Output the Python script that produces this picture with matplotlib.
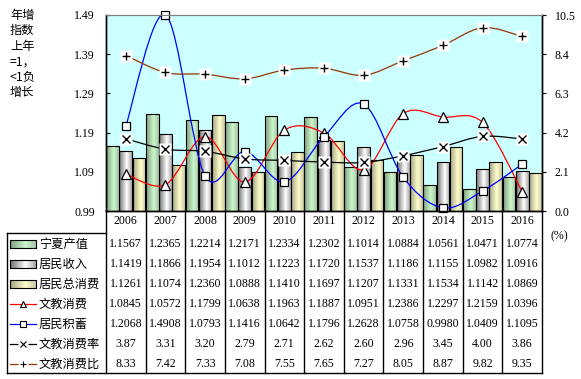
import numpy as np
import matplotlib
matplotlib.use("Agg")
import matplotlib.pyplot as plt
import matplotlib.transforms as mtransforms
from matplotlib.path import Path
from matplotlib.patches import PathPatch
from matplotlib.lines import Line2D
from matplotlib.colors import LinearSegmentedColormap

years = ["2006", "2007", "2008", "2009", "2010", "2011", "2012", "2013", "2014", "2015", "2016"]
output_idx = [1.1567, 1.2365, 1.2214, 1.2171, 1.2334, 1.2302, 1.1014, 1.0884, 1.0561, 1.0471, 1.0774]
income_idx = [1.1419, 1.1866, 1.1954, 1.1012, 1.1223, 1.1720, 1.1537, 1.1186, 1.1155, 1.0982, 1.0916]
consume_idx = [1.1261, 1.1074, 1.2360, 1.0888, 1.1410, 1.1697, 1.1207, 1.1331, 1.1534, 1.1142, 1.0869]
edu_idx = [1.0845, 1.0572, 1.1799, 1.0638, 1.1963, 1.1887, 1.0951, 1.2386, 1.2297, 1.2159, 1.0396]
saving_idx = [1.2068, 1.4908, 1.0793, 1.1416, 1.0642, 1.1796, 1.2628, 1.0758, 0.9980, 1.0409, 1.1095]
edu_rate = [3.87, 3.31, 3.20, 2.79, 2.71, 2.62, 2.60, 2.96, 3.45, 4.00, 3.86]
edu_ratio = [8.33, 7.42, 7.33, 7.08, 7.55, 7.65, 7.27, 8.05, 8.87, 9.82, 9.35]

names = ["宁夏产值", "居民收入", "居民总消费", "文教消费", "居民积蓄", "文教消费率", "文教消费比"]
left_ticks = [0.99, 1.09, 1.19, 1.29, 1.39, 1.49]
right_ticks = [0.0, 2.1, 4.2, 6.3, 8.4, 10.5]

CJK = ["Noto Sans CJK SC", "DejaVu Sans"]
SERIF = "Liberation Serif"
W, H = 581, 379


def fx(px):
    return px / W


def fy(py):
    return 1 - py / H


def smooth_path(xs, ys):
    # Catmull-Rom style bezier like excel smoothed lines
    pts = np.column_stack([xs, ys]).astype(float)
    n = len(pts)
    verts = [pts[0]]
    codes = [Path.MOVETO]
    for i in range(n - 1):
        p0 = pts[max(i - 1, 0)]
        p1 = pts[i]
        p2 = pts[i + 1]
        p3 = pts[min(i + 2, n - 1)]
        verts += [p1 + (p2 - p0) / 6, p2 - (p3 - p1) / 6, p2]
        codes += [Path.CURVE4] * 3
    return Path(verts, codes)


bar_cmaps = [
    LinearSegmentedColormap.from_list("g", [(0, "#7f9f7f"), (0.6, "#ccf7cc"), (1, "#a4c4a4")]),
    LinearSegmentedColormap.from_list("s", [(0, "#6e6e6e"), (0.6, "#ffffff"), (1, "#aaaaaa")]),
    LinearSegmentedColormap.from_list("y", [(0, "#a3a384"), (0.6, "#ffffcc"), (1, "#c8c8a4")]),
]
grad = np.linspace(0, 1, 64).reshape(1, -1)

fig = plt.figure(figsize=(W / 100, H / 100), dpi=100)
ax = fig.add_axes([fx(106), fy(211), fx(542) - fx(106), fy(15) - fy(211)])
ax.set_facecolor("#ccffff")
ax2 = ax.twinx()

x = np.arange(len(years))
ymin, ymax = 0.99, 1.49

# bars with gradient fill
offsets = [-1 / 3, 0, 1 / 3]
bw = 0.32
for series, off, cmap in zip([output_idx, income_idx, consume_idx], offsets, bar_cmaps):
    heights = np.array(series) - ymin
    bars = ax.bar(x + off, heights, bw, bottom=ymin, facecolor="none",
                  edgecolor="black", linewidth=0.8, zorder=3)
    for b in bars:
        x0, y0 = b.get_x(), b.get_y()
        im = ax.imshow(grad, cmap=cmap, aspect="auto", zorder=2,
                       extent=[x0, x0 + b.get_width(), y0, y0 + b.get_height()])
        im.set_clip_path(b)

# smoothed lines on left axis
for series, color, mk, ms in [(edu_idx, "red", "^", 7), (saving_idx, "blue", "s", 6)]:
    ax.add_patch(PathPatch(smooth_path(x, series), fill=False, edgecolor=color, lw=0.9, zorder=4))
    ax.plot(x, series, ls="none", marker=mk, ms=ms, mfc="white", mec="black", mew=0.9,
            zorder=5, clip_on=False)

# smoothed lines on right axis
for series, color, mk in [(edu_rate, "black", "x"), (edu_ratio, "#993300", "+")]:
    ax2.add_patch(PathPatch(smooth_path(x, series), fill=False, edgecolor=color, lw=0.9, zorder=4))
    ax2.plot(x, series, ls="none", marker="s", ms=9, mfc="white", mec="none", zorder=5)
    ax2.plot(x, series, ls="none", marker=mk, ms=6, mec="black", mew=1.0, zorder=6)

ax.set_xlim(-0.5, len(years) - 0.5)
ax.set_ylim(ymin, ymax)
ax2.set_ylim(0, 10.5)

ax.set_yticks(left_ticks)
ax.set_yticklabels([f"{v:.2f}" for v in left_ticks], fontfamily=SERIF, fontsize=8.6)
ax.tick_params(axis="y", direction="in", length=3, pad=8)
ax2.set_yticks(right_ticks)
ax2.set_yticklabels([f"{v:.1f}" for v in right_ticks], fontfamily=SERIF, fontsize=8.6)
ax2.tick_params(axis="y", direction="out", length=3, pad=6)

ax.set_xticks(x)
ax.set_xticklabels(years, fontfamily=SERIF, fontsize=8.6)
ax.tick_params(axis="x", length=0, pad=3)

for a in (ax, ax2):
    a.spines["top"].set_color("#808080")
    for s in ("left", "right", "bottom"):
        a.spines[s].set_color("black")
        a.spines[s].set_linewidth(1.0)

# data table under the plot
blend = mtransforms.blended_transform_factory(ax.transData, fig.transFigure)
row_y = [244, 264, 284, 304, 324, 344, 364]
rows = [output_idx, income_idx, consume_idx, edu_idx, saving_idx, edu_rate, edu_ratio]
for r, (series, py) in enumerate(zip(rows, row_y)):
    fmt = "{:.4f}" if r < 5 else "{:.2f}"
    for i, v in enumerate(series):
        ax.text(i, fy(py), fmt.format(v), transform=blend, ha="center", va="center",
                fontfamily=SERIF, fontsize=8.6, clip_on=False)
    fig.text(fx(39), fy(py), names[r], ha="left", va="center", fontfamily=CJK, fontsize=8.8)

for b in np.arange(-0.5, len(years), 1.0):
    ax.add_line(Line2D([b, b], [fy(211), fy(373)], transform=blend, color="black",
                       lw=1.0, clip_on=False))
fig.add_artist(Line2D([fx(7), fx(106)], [fy(233), fy(233)], color="black", lw=1.0))
fig.add_artist(Line2D([fx(7), fx(7)], [fy(233), fy(373)], color="black", lw=1.0))
fig.add_artist(Line2D([fx(7), fx(542)], [fy(373), fy(373)], color="black", lw=1.0))

# legend keys inside the table
for r, cmap in enumerate(bar_cmaps):
    kax = fig.add_axes([fx(10), fy(row_y[r] + 4), fx(26), fy(row_y[r] - 4) - fy(row_y[r] + 4)])
    kax.imshow(grad, cmap=cmap, aspect="auto")
    kax.set_xticks([])
    kax.set_yticks([])
    for s in kax.spines.values():
        s.set_linewidth(0.8)
for r, color, mk in [(3, "red", "^"), (4, "blue", "s"), (5, "black", "x"), (6, "#993300", "+")]:
    yy = fy(row_y[r])
    fig.add_artist(Line2D([fx(10), fx(36)], [yy, yy], color=color, lw=0.9))
    if mk in ("x", "+"):
        fig.add_artist(Line2D([fx(23)], [yy], ls="none", marker="s", ms=7, mfc="white", mec="none"))
        fig.add_artist(Line2D([fx(23)], [yy], ls="none", marker=mk, ms=4.5, mec="black", mew=0.8))
    else:
        fig.add_artist(Line2D([fx(23)], [yy], ls="none", marker=mk, ms=5, mfc="white",
                              mec="black", mew=0.8))

fig.text(fx(559), fy(236), "(%)", ha="center", va="center", fontfamily=SERIF, fontsize=8.6)
fig.text(fx(10), fy(9), "年增\n指数\n上年\n=1，\n<1负\n增长", ha="left", va="top",
         fontfamily=CJK, fontsize=8.8, linespacing=1.24)

fig.savefig("out.png", dpi=100)
